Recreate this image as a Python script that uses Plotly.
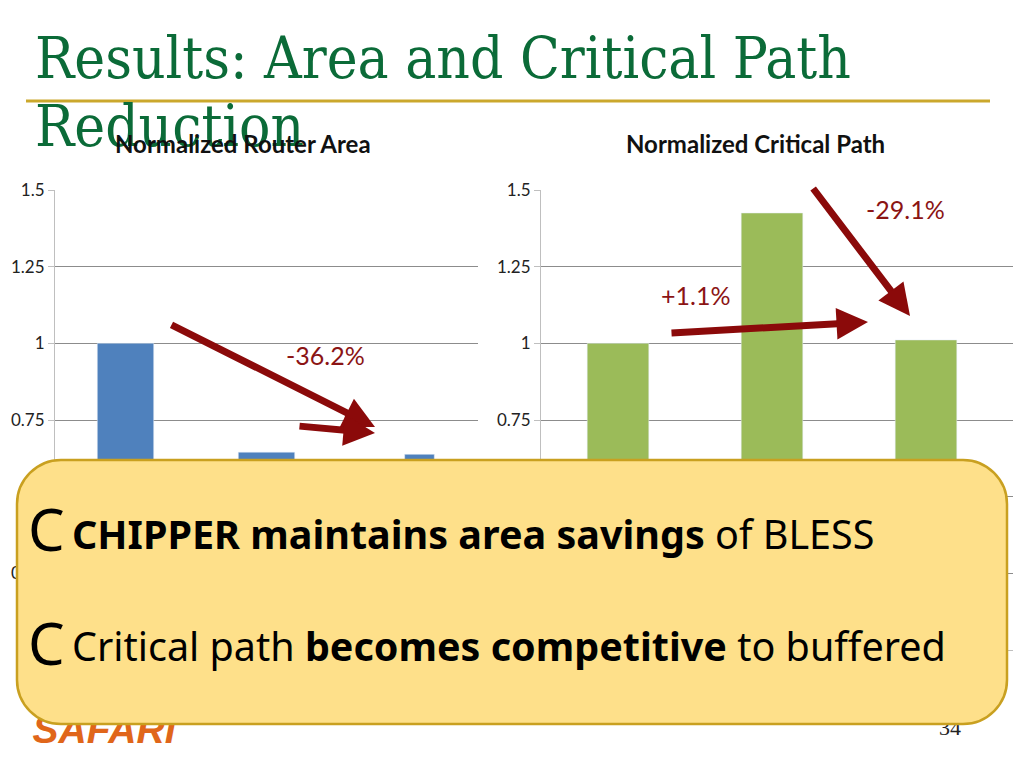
import plotly.graph_objects as go

# ---- data ----
categories = ["Buffered", "BLESS", "CHIPPER"]
router_area = [1.0, 0.645, 0.638]
critical_path = [1.0, 1.425, 1.011]
y_ticks = [0, 0.25, 0.5, 0.75, 1, 1.25, 1.5]
y_tick_labels = ["0", "0.25", "0.5", "0.75", "1", "1.25", "1.5"]
area_label = "-36.2%"
cp_labels = ["+1.1%", "-29.1%"]

# page body has an 8px margin on every side: size the figure so the page
# does not overflow the 1024x768 window, and work in screen pixel coordinates
OFF = 8
W, H = 1024 - 2 * OFF, 768 - 2 * OFF
X0, X1 = OFF, 1024 - OFF
Y0, Y1 = OFF, 768 - OFF
def px(x):
    return (x - X0) / (X1 - X0)
def py(y):
    return 1 - (y - Y0) / (Y1 - Y0)

fig = go.Figure()

fig.add_trace(go.Bar(x=categories, y=router_area, marker_color="#4F81BD",
                     width=[0.4, 0.4, 0.21], offset=[-0.2, -0.2, -0.02],
                     xaxis="x", yaxis="y", showlegend=False))
fig.add_trace(go.Bar(x=categories, y=critical_path, marker_color="#9BBB59",
                     width=0.4, xaxis="x2", yaxis="y2", showlegend=False))

# decorative footer text on full-page overlay axes (below the callout box)
fig.add_trace(go.Scatter(x=[104], y=[733], mode="text", text=["<b><i>SAFARI</i></b>"],
                         textfont=dict(family="Liberation Sans", size=39, color="#E0661A"),
                         xaxis="x3", yaxis="y3", showlegend=False, hoverinfo="skip"))
fig.add_trace(go.Scatter(x=[950], y=[729], mode="text", text=["34"],
                         textfont=dict(family="Liberation Serif", size=22, color="#222"),
                         xaxis="x3", yaxis="y3", showlegend=False, hoverinfo="skip"))

yax = dict(range=[0, 1.5], tickvals=y_ticks, ticktext=y_tick_labels,
           showgrid=True, gridcolor="#8c8c8c", gridwidth=1,
           showline=True, linecolor="#bfbfbf", linewidth=1,
           ticks="outside", ticklen=6, tickcolor="#bfbfbf",
           tickfont=dict(family="Lato", size=17, color="#222"),
           zeroline=False, automargin=False)
xax = dict(showticklabels=False, showgrid=False, showline=True, linecolor="#bfbfbf",
           ticks="", zeroline=False, automargin=False)

fig.update_layout(
    width=W, height=H, autosize=False,
    margin=dict(l=0, r=0, t=0, b=0, pad=0),
    paper_bgcolor="white", plot_bgcolor="rgba(0,0,0,0)",
    xaxis=dict(domain=[px(55), px(478)], anchor="y", range=[-0.5, 2.5], **xax),
    yaxis=dict(domain=[py(650), py(190)], anchor="x", **yax),
    xaxis2=dict(domain=[px(541), px(1013)], anchor="y2", range=[-0.5, 2.565], **xax),
    yaxis2=dict(domain=[py(650), py(190)], anchor="x2", **yax),
    xaxis3=dict(domain=[0, 1], range=[X0, X1], visible=False, anchor="y3", fixedrange=True),
    yaxis3=dict(domain=[0, 1], range=[Y1, Y0], visible=False, anchor="x3", fixedrange=True),
)

shapes = []
# gold rule under title
shapes.append(dict(type="line", xref="x3", yref="y3", x0=26, x1=990, y0=101, y1=101,
                   line=dict(color="#CBA82C", width=3), layer="above"))
# rounded callout box
x0, x1, y0, y1, r = 17, 1007, 460, 724, 44
k = 0.55 * r
path = (f"M {x0+r},{y0} L {x1-r},{y0} C {x1-r+k},{y0} {x1},{y0+r-k} {x1},{y0+r} "
        f"L {x1},{y1-r} C {x1},{y1-r+k} {x1-r+k},{y1} {x1-r},{y1} "
        f"L {x0+r},{y1} C {x0+r-k},{y1} {x0},{y1-r+k} {x0},{y1-r} "
        f"L {x0},{y0+r} C {x0},{y0+r-k} {x0+r-k},{y0} {x0+r},{y0} Z")
shapes.append(dict(type="path", xref="x3", yref="y3", path=path,
                   fillcolor="#FEE08A", line=dict(color="#C9A020", width=2.5), layer="above"))
fig.update_layout(shapes=shapes)

ann = []
def text(x, y, t, size, color="#000", family="Noto Sans", xanchor="center", yanchor="middle"):
    ann.append(dict(x=x, y=y, xref="x3", yref="y3", text=t, showarrow=False,
                    xanchor=xanchor, yanchor=yanchor,
                    font=dict(family=family, size=size, color=color)))

def arrow(tx, ty, hx, hy):
    ann.append(dict(x=hx, y=hy, ax=tx, ay=ty, xref="x3", yref="y3", axref="x3", ayref="y3",
                    text="", showarrow=True, arrowhead=2, arrowsize=0.9, arrowwidth=7,
                    arrowcolor="#8B0A0A"))

# slide title
TF = "DejaVu Serif Condensed, DejaVu Serif"
text(33, 58, "Results: Area and Critical Path", 58, "#0B6B38", TF, "left")
text(33, 126, "Reduction", 58, "#0B6B38", TF, "left")
# chart titles
text(243, 143, "<b>Normalized Router Area</b>", 24, "#111", "Lato")
text(755, 143, "<b>Normalized Critical Path</b>", 24, "#111", "Lato")
# arrows
arrow(170, 324, 375, 427)
arrow(298, 426, 375, 433)
arrow(670, 333, 868, 322)
arrow(812, 187, 910, 316)
text(325, 355, area_label, 25, "#8B1414", "Lato")
text(695, 295, cp_labels[0], 25, "#8B1414", "Lato")
text(905, 209, cp_labels[1], 25, "#8B1414", "Lato")
# callout text
text(26, 528, "C", 58, "#000", "Noto Sans", "left")
text(70, 534, "<b>CHIPPER maintains area savings</b> of BLESS", 39.5, "#000", "Noto Sans", "left")
text(26, 642, "C", 58, "#000", "Noto Sans", "left")
text(70, 646, "Critical path <b>becomes competitive</b> to buffered", 39.5, "#000", "Noto Sans", "left")

fig.update_layout(annotations=ann)

fig.write_html("out.html")
